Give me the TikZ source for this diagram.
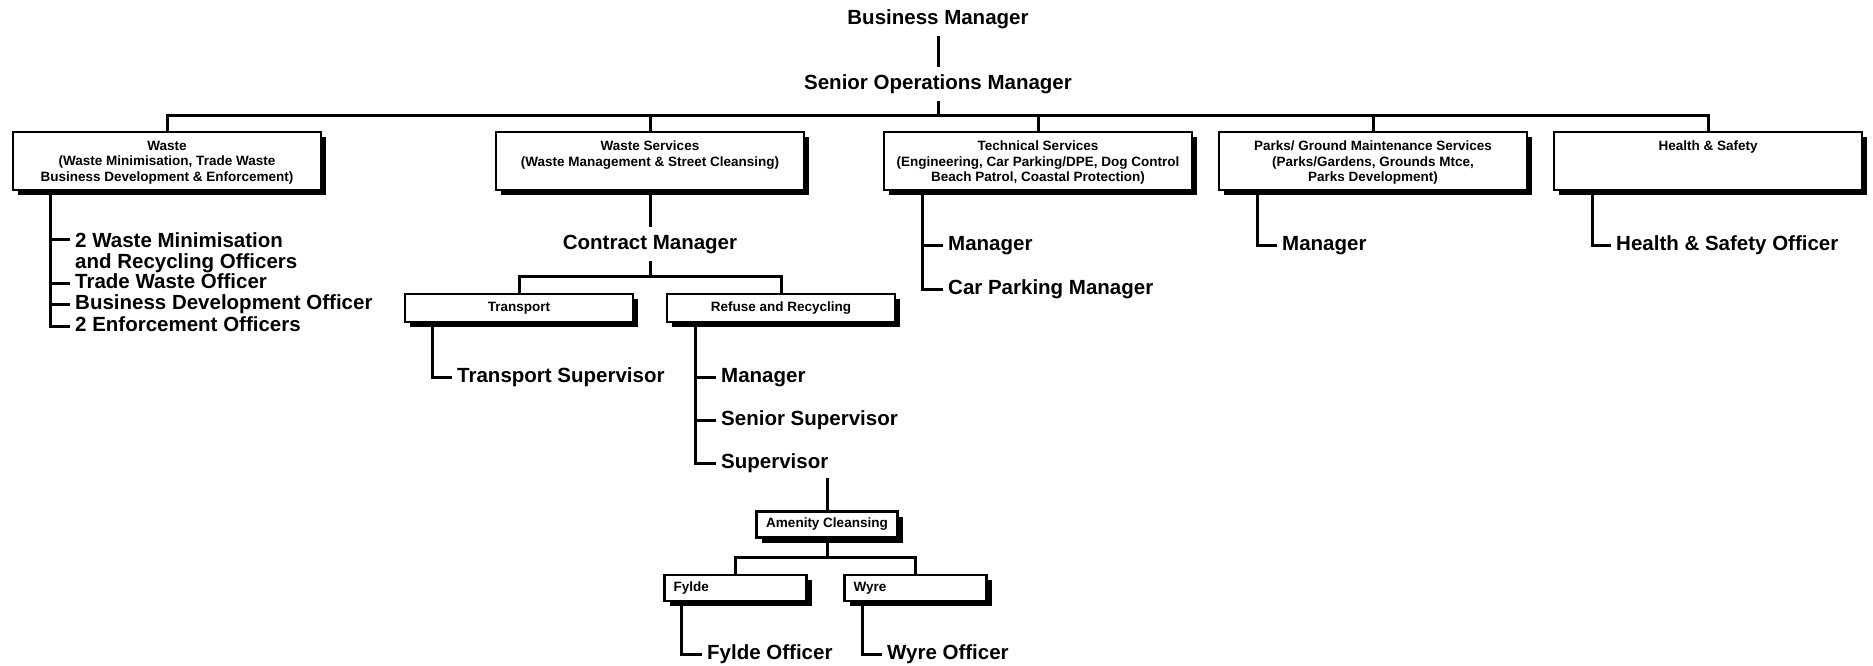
\documentclass[tikz,border=0pt]{standalone}
\usepackage{fontspec}
\setmainfont{Liberation Sans}
\usepackage{tikz}
\usetikzlibrary{positioning}
\usetikzlibrary{shadows}
\newcommand{\postfont}{\fontsize{20.5}{21.5}\selectfont\bfseries}
\newcommand{\unitfont}{\fontsize{13.5}{15.5}\selectfont\bfseries}
\tikzset{
  conn/.style={line width=3pt},
  unitbox/.style={draw, line width=2.6pt, fill=white, inner sep=0pt, font=\unitfont,
    drop shadow={shadow xshift=5pt, shadow yshift=-5pt, fill=black, opacity=1}},
  bigunit/.style={unitbox, minimum width=308pt, minimum height=58pt},
  subunit/.style={unitbox, minimum width=228pt, minimum height=28pt},
  areabox/.style={unitbox, text width=124pt, inner xsep=9pt, minimum height=26pt, align=left},
  unittxt/.style={font=\unitfont, align=center, inner sep=0pt},
  postlbl/.style={font=\postfont, inner sep=7.5pt, text height=14.7pt, text depth=4.3pt},
  stafflines/.style={font=\postfont, inner sep=5pt, align=left},
  staff/.style={font=\postfont, inner sep=5pt, anchor=west, text height=14.7pt, text depth=4.3pt},
}

\begin{document}
\begin{tikzpicture}[x=1pt, y=-1pt]
\useasboundingbox (0,0) rectangle (1873,665);

% top of the chart
\node[postlbl] (bm) at (938,19) {Business Manager};
\node[postlbl] (som) at (938,84) {Senior Operations Manager};
\draw[conn] (bm) -- (som);
\coordinate (topbar) at (938,115);

% service units
\node[bigunit] (waste) at (167,161) {};
\node[bigunit] (wserv) at (650,161) {};
\node[bigunit] (tech) at (1038,161) {};
\node[bigunit] (parks) at (1373,161) {};
\node[bigunit] (hs) at (1708,161) {};
\node[unittxt, below=10pt of waste.north] (wastetxt) {Waste\\(Waste Minimisation, Trade Waste\\Business Development \& Enforcement)};
\node[unittxt, below=10pt of wserv.north] (wservtxt) {Waste Services\\(Waste Management \& Street Cleansing)};
\node[unittxt, below=10pt of tech.north] (techtxt) {Technical Services\\(Engineering, Car Parking/DPE, Dog Control\\Beach Patrol, Coastal Protection)};
\node[unittxt, below=10pt of parks.north] (parkstxt) {Parks/ Ground Maintenance Services\\(Parks/Gardens, Grounds Mtce,\\Parks Development)};
\node[unittxt, below=10pt of hs.north] (hstxt) {Health \& Safety};

\draw[conn] (som) -- (topbar);
\draw[conn] (waste.north) |- (topbar) -| (hs.north);
\foreach \u in {wserv,tech,parks}
  \draw[conn] (\u.north) -- (\u.north |- topbar);

% waste
\coordinate (wsp) at (50,0);
\node[stafflines, anchor=north west] (wmin) at (70,227) {2 Waste Minimisation\\and Recycling Officers};
\node[staff] (wtrade) at (70,283) {Trade Waste Officer};
\node[staff] (wbus) at (70,304) {Business Development Officer};
\node[staff] (wenf) at (70,326) {2 Enforcement Officers};
\coordinate (wminl) at ([yshift=-12.3pt]wmin.north west);
\draw[conn] (waste.south -| wsp) |- (wenf.west);
\foreach \s in {wminl,wtrade.west,wbus.west}
  \draw[conn] (\s) -- (\s -| wsp);

% waste services
\node[postlbl] (cm) at (650,244) {Contract Manager};
\draw[conn] (wserv) -- (cm);
\node[subunit] (trans) at (519,308) {Transport};
\node[subunit] (refuse) at (781,308) {Refuse and Recycling};
\coordinate (cmbar) at (650,276);
\draw[conn] (cm) -- (cmbar);
\draw[conn] (trans.north) |- (cmbar) -| (refuse.north);

\coordinate (tsp) at (432,0);
\node[staff] (tsup) at (452,377) {Transport Supervisor};
\draw[conn] (trans.south -| tsp) |- (tsup.west);

\coordinate (rsp) at (695,0);
\node[staff] (rman) at (716,377) {Manager};
\node[staff] (rsen) at (716,420) {Senior Supervisor};
\node[staff] (rsup) at (716,463) {Supervisor};
\draw[conn] (refuse.south -| rsp) |- (rsup.west);
\foreach \s in {rman,rsen}
  \draw[conn] (\s.west) -- (\s.west -| rsp);

% amenity cleansing
\node[unitbox, minimum width=141pt, minimum height=26pt] (amen) at (827,524.5) {Amenity Cleansing};
\draw[conn] (amen.north) -- (amen.north |- rsup.south);
\coordinate (amenbar) at (827,557);
\draw[conn] (amen) -- (amenbar);
\node[areabox] (fylde) at (735.5,588) {Fylde};
\node[areabox] (wyre) at (915.5,588) {Wyre};
\draw[conn] (fylde.north) |- (amenbar) -| (wyre.north);

\coordinate (fsp) at (681,0);
\node[staff] (fo) at (702,654) {Fylde Officer};
\draw[conn] (fylde.south -| fsp) |- (fo.west);
\coordinate (wysp) at (862,0);
\node[staff] (wo) at (882,654) {Wyre Officer};
\draw[conn] (wyre.south -| wysp) |- (wo.west);

% technical services
\coordinate (tcsp) at (922,0);
\node[staff] (tman) at (943,245) {Manager};
\node[staff] (tcar) at (943,289) {Car Parking Manager};
\draw[conn] (tech.south -| tcsp) |- (tcar.west);
\draw[conn] (tman.west) -- (tman.west -| tcsp);

% parks
\coordinate (psp) at (1257,0);
\node[staff] (pman) at (1277,245) {Manager};
\draw[conn] (parks.south -| psp) |- (pman.west);

% health and safety
\coordinate (hsp) at (1592,0);
\node[staff] (hso) at (1611,245) {Health \& Safety Officer};
\draw[conn] (hs.south -| hsp) |- (hso.west);
\end{tikzpicture}
\end{document}
